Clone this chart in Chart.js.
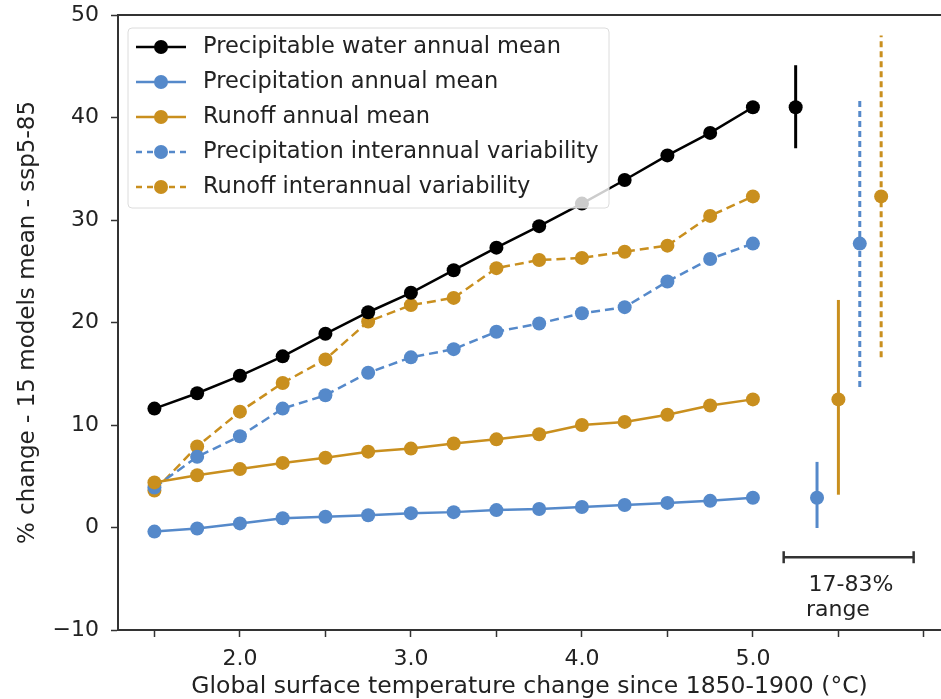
<!DOCTYPE html>
<html>
<head>
<meta charset="utf-8">
<script src="https://cdn.jsdelivr.net/npm/chart.js@4.4.1/dist/chart.umd.min.js"></script>
<style>
html, body { margin: 0; padding: 0; background: #fff; overflow: hidden; }
#wrap { width: 941px; height: 699px; }
</style>
</head>
<body>
<div id="wrap"><canvas id="myChart" width="941" height="699"></canvas></div>
<script>
// warming levels (x axis)
const warming = [1.5, 1.75, 2.0, 2.25, 2.5, 2.75, 3.0, 3.25, 3.5, 3.75, 4.0, 4.25, 4.5, 4.75, 5.0];

// % change, 15 models mean
const pwMean     = [11.6, 13.1, 14.8, 16.7, 18.9, 21.0, 22.9, 25.1, 27.3, 29.4, 31.6, 33.9, 36.3, 38.5, 41.0];
const precipMean = [-0.4, -0.1, 0.4, 0.9, 1.05, 1.2, 1.4, 1.5, 1.7, 1.8, 2.0, 2.2, 2.4, 2.6, 2.9];
const runoffMean = [4.4, 5.1, 5.7, 6.3, 6.8, 7.4, 7.7, 8.2, 8.6, 9.1, 10.0, 10.3, 11.0, 11.9, 12.5];
const precipVar  = [3.9, 6.9, 8.9, 11.6, 12.9, 15.1, 16.6, 17.4, 19.1, 19.9, 20.9, 21.5, 24.0, 26.2, 27.7];
const runoffVar  = [3.6, 7.9, 11.3, 14.1, 16.4, 20.1, 21.7, 22.4, 25.3, 26.1, 26.3, 26.9, 27.5, 30.4, 32.3];

// 17-83% model range at 5 degC (same order as the series)
const rangeX    = [5.25, 5.375, 5.5, 5.625, 5.75];
const rangeLow  = [37.0, -0.05, 3.2, 13.7, 16.6];
const rangeMid  = [41.0, 2.9, 12.5, 27.7, 32.3];
const rangeHigh = [45.1, 6.4, 22.2, 41.7, 48.0];

// scale bar for the range
const rangeBarX = [5.18, 5.94];
const rangeBarY = -2.9;
const rangeText = ['17-83%', 'range'];

const labels = [
    'Precipitable water annual mean',
    'Precipitation annual mean',
    'Runoff annual mean',
    'Precipitation interannual variability',
    'Runoff interannual variability'
];

const BLACK = '#000000';
const BLUE = '#5589ca';
const ORANGE = '#c98f1e';
const AXIS = '#333333';
const FONT = 'DejaVu Sans';

const series = [pwMean, precipMean, runoffMean, precipVar, runoffVar];
const colors = [BLACK, BLUE, ORANGE, BLUE, ORANGE];
const dashes = [[], [], [], [9, 5], [9, 5]];

function xy(xs, ys){
    return xs.map((x, i) => ({x: x, y: ys[i]}));
}

let datasets = [];

// main lines
series.forEach((s, i) => {
    datasets.push({
        label: labels[i],
        data: xy(warming, s),
        showLine: true,
        borderColor: colors[i],
        backgroundColor: colors[i],
        borderWidth: 2.5,
        borderDash: dashes[i],
        pointRadius: 7,
        pointBorderWidth: 0,
        pointBackgroundColor: colors[i]
    });
});

// range bars
rangeX.forEach((x, i) => {
    datasets.push({
        label: 'range ' + i,
        data: [{x: x, y: rangeLow[i]}, {x: x, y: rangeHigh[i]}],
        showLine: true,
        borderColor: colors[i],
        borderWidth: 3,
        borderDash: i > 2 ? [6, 4] : [],
        pointRadius: 0
    });
    datasets.push({
        label: 'mid ' + i,
        data: [{x: x, y: rangeMid[i]}],
        showLine: false,
        pointRadius: 7,
        pointBorderWidth: 0,
        pointBackgroundColor: colors[i]
    });
});

// the scale bar
datasets.push({
    label: 'range bar',
    data: [{x: rangeBarX[0], y: rangeBarY}, {x: rangeBarX[1], y: rangeBarY}],
    showLine: true,
    borderColor: AXIS,
    borderWidth: 2.5,
    pointStyle: 'line',
    rotation: 90,
    pointRadius: 6,
    pointBorderWidth: 2.5,
    pointBorderColor: AXIS
});

// legend inside the axes, drawn on top
const legendBox = {
    id: 'legendBox',
    afterDraw(chart){
        const ctx = chart.ctx;
        ctx.save();
        const bx = 128, by = 28, bw = 481, bh = 180;
        ctx.beginPath();
        ctx.roundRect(bx, by, bw, bh, 4);
        ctx.fillStyle = 'rgba(255,255,255,0.8)';
        ctx.fill();
        ctx.strokeStyle = '#dcdcdc';
        ctx.lineWidth = 1;
        ctx.stroke();

        ctx.font = '22.5px "' + FONT + '"';
        ctx.textBaseline = 'middle';
        for(let i = 0; i < 5; i++){
            const ds = chart.data.datasets[i];
            const y = 47 + i * 35;
            ctx.strokeStyle = ds.borderColor;
            ctx.lineWidth = ds.borderWidth;
            ctx.setLineDash(ds.borderDash.length ? [6, 5] : []);
            ctx.beginPath();
            ctx.moveTo(136, y);
            ctx.lineTo(186, y);
            ctx.stroke();
            ctx.setLineDash([]);
            ctx.fillStyle = ds.pointBackgroundColor;
            ctx.beginPath();
            ctx.arc(161, y, 7, 0, Math.PI * 2);
            ctx.fill();
            ctx.fillStyle = '#222';
            ctx.fillText(ds.label, 203, y);
        }

        // text under the scale bar
        const xs = chart.scales.x, ys = chart.scales.y;
        ctx.font = '22px "' + FONT + '"';
        ctx.fillStyle = '#222';
        ctx.textAlign = 'left';
        ctx.fillText(rangeText[0], xs.getPixelForValue(5.325), ys.getPixelForValue(-5.6));
        ctx.fillText(rangeText[1], xs.getPixelForValue(5.31), ys.getPixelForValue(-8.05));
        ctx.restore();
    }
};

const ctx = document.getElementById('myChart').getContext('2d');

const myChart = new Chart(ctx, {
    type: 'scatter',
    data: {datasets: datasets},
    plugins: [legendBox],
    options: {
        responsive: false,
        animation: false,
        devicePixelRatio: 1,
        layout: {padding: 0, autoPadding: false},
        plugins: {
            legend: {display: false},
            tooltip: {enabled: false}
        },
        scales: {
            x: {
                type: 'linear',
                position: 'bottom',
                min: 1.287,
                max: 6.1,
                afterFit(s){ s.height = 69; s.paddingLeft = 0; s.paddingRight = 0; },
                ticks: {
                    stepSize: 0.5,
                    includeBounds: false,
                    autoSkip: false,
                    maxRotation: 0,
                    padding: 9,
                    color: '#222',
                    font: {family: FONT, size: 22},
                    callback(v){
                        return (Math.abs(v - Math.round(v)) < 1e-6 && v >= 2 && v <= 5) ? v.toFixed(1) : '';
                    }
                },
                grid: {drawOnChartArea: false, tickLength: 7, tickColor: AXIS, tickWidth: 1.5},
                border: {color: AXIS, width: 2},
                title: {
                    display: true,
                    text: 'Global surface temperature change since 1850-1900 (°C)',
                    color: '#222',
                    font: {family: FONT, size: 23.5, lineHeight: 1.0},
                    padding: {top: 0, bottom: 0}
                }
            },
            xTop: {
                type: 'linear',
                axis: 'x',
                position: 'top',
                min: 1.287,
                max: 6.1,
                afterFit(s){ s.height = 15; },
                ticks: {display: false},
                grid: {display: false, drawTicks: false},
                border: {display: true, color: AXIS, width: 2}
            },
            y: {
                type: 'linear',
                position: 'left',
                min: -10,
                max: 50,
                afterFit(s){ s.width = 118; s.paddingTop = 0; s.paddingBottom = 0; },
                ticks: {
                    stepSize: 10,
                    padding: 12,
                    color: '#222',
                    font: {family: FONT, size: 22},
                    callback(v){ return v < 0 ? '\u2212' + Math.abs(v) : String(v); }
                },
                grid: {drawOnChartArea: false, tickLength: 7, tickColor: AXIS, tickWidth: 1.5},
                border: {color: AXIS, width: 2},
                title: {
                    display: true,
                    text: '% change - 15 models mean - ssp5-85',
                    color: '#222',
                    font: {family: FONT, size: 23},
                    padding: {top: 14, bottom: 0}
                }
            }
        }
    }
});
</script>
</body>
</html>
